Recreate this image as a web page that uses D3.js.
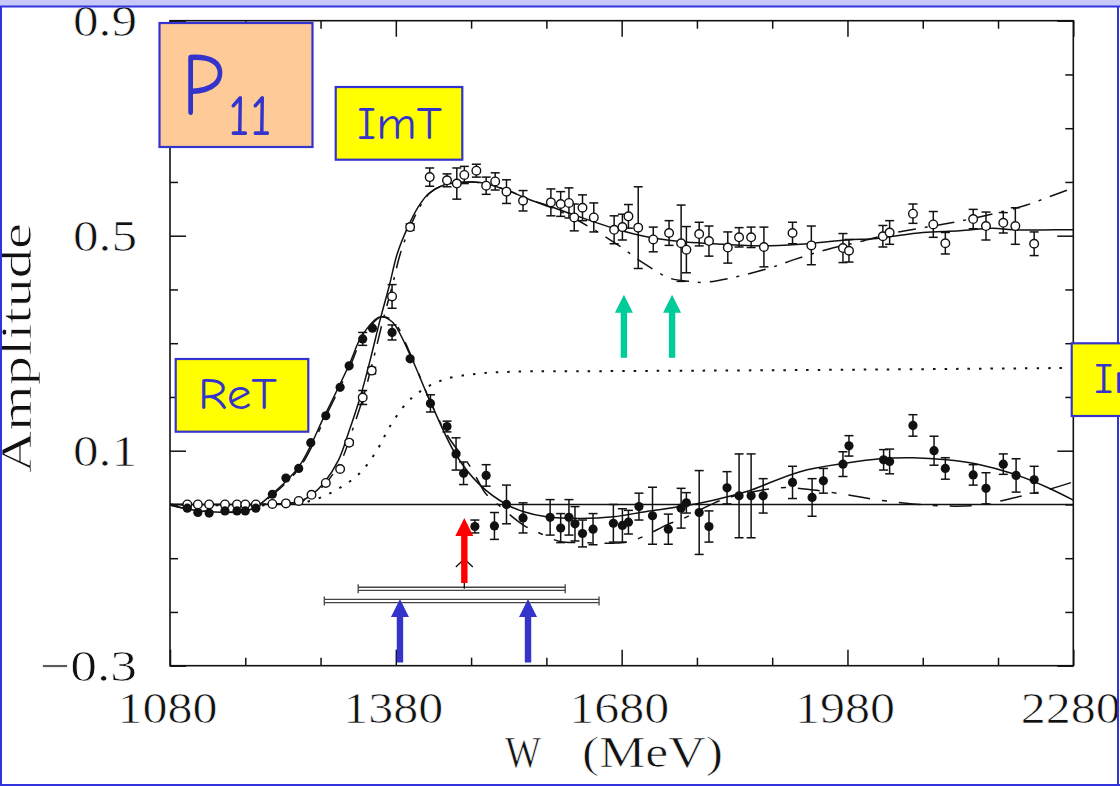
<!DOCTYPE html>
<html>
<head>
<meta charset="utf-8">
<script src="https://d3js.org/d3.v7.min.js"></script>
<style>
  html, body { margin: 0; padding: 0; background: #fff; }
  svg { display: block; }
</style>
</head>
<body>
<div id="chart"></div>
<script>
// ---- data (W in MeV, amplitude) ----
const imTW   = [1103,1117,1132,1153,1169,1180,1194,1216,1234,1251,1268,1287,1306,1318,1336,1348,1375,1399,1425,1448,1461,1471,1487,1500,1512,1527,1549,1586,1599,1610,1617,1628,1643,1670,1681,1689,1702,1722,1743,1759,1766,1783,1796,1821,1836,1852,1869,1907,1932,1974,1982,2027,2036,2067,2094,2110,2147,2164,2187,2203,2228];
const imTAmp = [0,0,0,0,0,0,0,0.001,0.002,0.0065,0.018,0.040,0.066,0.115,0.199,0.249,0.387,0.516,0.609,0.603,0.597,0.613,0.621,0.593,0.601,0.582,0.565,0.562,0.559,0.561,0.534,0.552,0.534,0.511,0.516,0.536,0.515,0.493,0.505,0.486,0.474,0.503,0.490,0.478,0.497,0.497,0.479,0.505,0.482,0.477,0.472,0.499,0.506,0.541,0.521,0.486,0.531,0.518,0.524,0.518,0.485];
const imTErr = [0,0,0,0,0,0,0,0,0,0,0,0,0,0.004,0.013,0.006,0.022,0.006,0.017,0.012,0.029,0.016,0.012,0.016,0.016,0.022,0.019,0.025,0.023,0.028,0.025,0.024,0.027,0.026,0.024,0.022,0.076,0.023,0.023,0.071,0.043,0.022,0.028,0.029,0.018,0.019,0.037,0.020,0.036,0.027,0.021,0.020,0.022,0.018,0.024,0.020,0.018,0.026,0.019,0.034,0.022];

const reTW   = [1103,1117,1132,1153,1169,1180,1194,1216,1234,1251,1267,1287,1306,1318,1336,1349,1375,1399,1426,1448,1460,1470,1485,1500,1511,1527,1549,1585,1599,1610,1618,1628,1642,1669,1681,1689,1703,1721,1742,1759,1766,1783,1796,1820,1836,1852,1868,1907,1933,1948,1974,1982,2028,2036,2067,2095,2110,2147,2164,2187,2204,2228];
const reTAmp = [-0.007,-0.015,-0.016,-0.012,-0.012,-0.012,-0.007,0.019,0.049,0.067,0.115,0.165,0.218,0.258,0.308,0.328,0.320,0.271,0.188,0.145,0.094,0.058,-0.041,0.054,-0.040,0.000,-0.025,-0.024,-0.044,-0.024,-0.036,-0.054,-0.046,-0.035,-0.039,-0.033,-0.004,-0.021,-0.046,-0.007,0.003,-0.015,-0.041,0.031,0.016,0.016,0.016,0.041,0.013,0.044,0.075,0.109,0.083,0.080,0.147,0.100,0.067,0.055,0.030,0.075,0.054,0.046];
const reTErr = [0,0,0,0,0,0,0,0,0,0,0,0,0,0,0.012,0,0.014,0,0.016,0.010,0.030,0.021,0.012,0.020,0.025,0.036,0.028,0.033,0.027,0.033,0.032,0.025,0.029,0.035,0.031,0.022,0.025,0.053,0.028,0.037,0.019,0.078,0.029,0.030,0.078,0.078,0.032,0.030,0.035,0.023,0.023,0.019,0.019,0.023,0.020,0.027,0.020,0.019,0.029,0.019,0.031,0.025];

// fitted curves [W, amplitude]
const reTSolid = [[1080,-0.001],[1120,-0.012],[1186,-0.010],[1216,0.020],[1251,0.070],[1286,0.167],[1318,0.260],[1335,0.314],[1359,0.349],[1375,0.340],[1399,0.278],[1425,0.194],[1460,0.092],[1492,0.036],[1527,0.000],[1549,-0.013],[1580,-0.023],[1625,-0.026],[1669,-0.023],[1713,-0.013],[1758,-0.004],[1802,0.008],[1846,0.024],[1917,0.061],[1979,0.077],[2023,0.085],[2067,0.087],[2112,0.083],[2156,0.074],[2200,0.057],[2245,0.032],[2280,0.008]];
const reTDashed = [[1080,-0.001],[1120,-0.012],[1186,-0.010],[1218,0.020],[1253,0.070],[1288,0.167],[1320,0.260],[1337,0.314],[1361,0.349],[1377,0.340],[1400,0.278],[1425,0.194],[1450,0.125],[1479,0.070],[1499,0.021],[1514,0.002],[1549,-0.038],[1572,-0.054],[1598,-0.069],[1625,-0.071],[1669,-0.072],[1691,-0.069],[1713,-0.057],[1740,-0.038],[1762,-0.026],[1802,0.002],[1828,0.015],[1890,0.031],[1935,0.027],[1979,0.018],[2023,0.008],[2067,0.001],[2112,-0.003],[2156,-0.001],[2200,0.012],[2245,0.027],[2280,0.042]];
const imTDashDot = [[1080,0],[1186,0],[1213,0.001],[1253,0.005],[1270,0.018],[1288,0.041],[1308,0.083],[1321,0.133],[1337,0.201],[1350,0.269],[1363,0.343],[1375,0.405],[1386,0.467],[1399,0.516],[1412,0.554],[1425,0.579],[1443,0.594],[1465,0.599],[1492,0.599],[1527,0.585],[1558,0.567],[1589,0.551],[1616,0.533],[1647,0.508],[1678,0.480],[1709,0.449],[1744,0.421],[1771,0.415],[1788,0.413],[1824,0.421],[1859,0.433],[1886,0.444],[1908,0.455],[1952,0.474],[1997,0.489],[2041,0.505],[2085,0.516],[2129,0.527],[2174,0.541],[2218,0.557],[2249,0.573],[2280,0.589]];
const imTSolid = [[1080,0],[1186,0],[1213,0.001],[1251,0.005],[1268,0.018],[1285,0.041],[1304,0.083],[1317,0.133],[1333,0.201],[1346,0.269],[1359,0.343],[1371,0.405],[1382,0.467],[1396,0.516],[1410,0.554],[1424,0.579],[1443,0.594],[1465,0.599],[1492,0.599],[1527,0.585],[1558,0.567],[1580,0.557],[1616,0.539],[1669,0.514],[1713,0.498],[1758,0.489],[1802,0.485],[1868,0.481],[1917,0.484],[1979,0.492],[2019,0.495],[2080,0.506],[2129,0.509],[2173,0.514],[2200,0.511],[2256,0.511],[2280,0.511]];
const dottedCurve = [[1080,0],[1239,0],[1270,0.008],[1301,0.027],[1332,0.058],[1355,0.101],[1372,0.145],[1394,0.188],[1412,0.210],[1443,0.232],[1487,0.243],[1536,0.247],[1651,0.248],[1917,0.250],[2280,0.254]];

// axis ticks
const xMajor = [1080, 1380, 1680, 1980, 2280];
const xMinor = [1180, 1280, 1480, 1580, 1780, 1880, 2080, 2180];
const yMajor = [-0.3, 0.1, 0.5, 0.9];
const yMinor = [-0.2, -0.1, 0, 0.2, 0.3, 0.4, 0.6, 0.7, 0.8];

// markers: [W, tip amplitude, base amplitude]
const greenArrows = [[1683, 0.390, 0.273], [1747, 0.390, 0.273]];
const redArrows = [[1471, -0.025, -0.146]];
const blueArrows = [[1385.5, -0.176, -0.294], [1555.6, -0.176, -0.294]];
const poleCaret = [[1471, -0.1015]];
// horizontal ranges: [W from, W to, amplitude]
const ranges = [[1330, 1605, -0.157], [1285, 1650, -0.1795]];

// ---- drawing ----
const width = 1120, height = 786;
const serif = "'Liberation Serif', 'Times New Roman', serif";
const comic = "'Comic Sans MS', 'Comic Neue', 'DejaVu Sans', sans-serif";
const blue = '#3434cc';

const svg = d3.select('#chart').append('svg')
	.attr('width', width)
	.attr('height', height)
	.attr('viewBox', `0 0 ${width} ${height}`);

svg.append('rect').attr('width', width).attr('height', height).attr('fill', '#fff');

const x = d3.scaleLinear().domain([1080, 2280]).range([170, 1073.3]);
const y = d3.scaleLinear().domain([-0.3, 0.9]).range([665.7, 20.7]);

function styleAxis(g) {
	g.select('.domain').remove();
	g.selectAll('.tick line').attr('stroke', '#111').attr('stroke-width', 1.5);
	g.attr('font-family', serif).attr('font-size', 45).attr('fill', '#111');
	// thin the glyphs a little, closer to the original's light serif face
	g.selectAll('text').attr('fill', '#111').attr('stroke', '#fff').attr('stroke-width', 0.7);
}

// bottom
svg.append('g').attr('transform', `translate(0,${y(-0.3)})`)
	.call(d3.axisBottom(x).tickValues(xMajor).tickSize(-16).tickPadding(25).tickFormat(d3.format('d')))
	.call(styleAxis)
	.call(g => g.selectAll('text').attr('textLength', 100).attr('lengthAdjust', 'spacingAndGlyphs').attr('dx', -3));
svg.append('g').attr('transform', `translate(0,${y(-0.3)})`)
	.call(d3.axisBottom(x).tickValues(xMinor).tickSize(-8).tickFormat(''))
	.call(styleAxis);
// top
svg.append('g').attr('transform', `translate(0,${y(0.9)})`)
	.call(d3.axisTop(x).tickValues(xMajor).tickSize(-16).tickFormat(''))
	.call(styleAxis);
svg.append('g').attr('transform', `translate(0,${y(0.9)})`)
	.call(d3.axisTop(x).tickValues(xMinor).tickSize(-8).tickFormat(''))
	.call(styleAxis);
// left
svg.append('g').attr('transform', `translate(${x(1080)},0)`)
	.call(d3.axisLeft(y).tickValues(yMajor).tickSize(-16).tickPadding(33).tickFormat(d3.format('.1f')))
	.call(styleAxis)
	.call(g => g.selectAll('text')
		.attr('textLength', d => d < 0 ? 97 : 64)
		.attr('lengthAdjust', 'spacingAndGlyphs'));
svg.append('g').attr('transform', `translate(${x(1080)},0)`)
	.call(d3.axisLeft(y).tickValues(yMinor).tickSize(-8).tickFormat(''))
	.call(styleAxis);
// right
svg.append('g').attr('transform', `translate(${x(2280)},0)`)
	.call(d3.axisRight(y).tickValues(yMajor).tickSize(-16).tickFormat(''))
	.call(styleAxis);
svg.append('g').attr('transform', `translate(${x(2280)},0)`)
	.call(d3.axisRight(y).tickValues(yMinor).tickSize(-8).tickFormat(''))
	.call(styleAxis);

// frame + zero line
svg.append('rect')
	.attr('x', x(1080)).attr('y', y(0.9))
	.attr('width', x(2280) - x(1080)).attr('height', y(-0.3) - y(0.9))
	.attr('fill', 'none').attr('stroke', '#111').attr('stroke-width', 1.6);
svg.append('line')
	.attr('x1', x(1080)).attr('x2', x(2280))
	.attr('y1', y(0)).attr('y2', y(0))
	.attr('stroke', '#111').attr('stroke-width', 1.5);

// axis titles
const titles = svg.append('g')
	.attr('font-family', serif).attr('font-size', 44).attr('fill', '#111')
	.attr('stroke', '#fff').attr('stroke-width', 0.7)
	.attr('lengthAdjust', 'spacingAndGlyphs');
titles.append('text')
	.attr('transform', `translate(31,348) rotate(-90)`)
	.attr('text-anchor', 'middle')
	.attr('textLength', 250).attr('lengthAdjust', 'spacingAndGlyphs')
	.text('Amplitude');
titles.append('text')
	.attr('x', 505).attr('y', 767)
	.attr('textLength', 36).attr('lengthAdjust', 'spacingAndGlyphs')
	.text('W');
titles.append('text')
	.attr('x', 582).attr('y', 767)
	.attr('textLength', 141).attr('lengthAdjust', 'spacingAndGlyphs')
	.text('(MeV)');

// curves
const line = d3.line()
	.x(d => x(d[0]))
	.y(d => y(d[1]))
	.curve(d3.curveCatmullRom.alpha(0.5));

const curves = svg.append('g').attr('fill', 'none').attr('stroke', '#111').attr('stroke-width', 1.5);
curves.append('path').attr('d', line(dottedCurve)).attr('stroke-dasharray', '2.5,9').attr('stroke-width', 2);
curves.append('path').attr('d', line(reTDashed)).attr('stroke-dasharray', '22,12,5,12');
curves.append('path').attr('d', line(imTDashDot)).attr('stroke-dasharray', '18,9,3,9');
curves.append('path').attr('d', line(reTSolid));
curves.append('path').attr('d', line(imTSolid));

// data points
const imTData = imTW.map((w, i) => ({ w, v: imTAmp[i], e: imTErr[i] }));
const reTData = reTW.map((w, i) => ({ w, v: reTAmp[i], e: reTErr[i] }));

function drawErrors(data) {
	const g = svg.append('g').attr('stroke', '#111').attr('stroke-width', 1.5);
	const withErr = data.filter(d => d.e > 0);
	g.selectAll('line.bar').data(withErr).join('line').attr('class', 'bar')
		.attr('x1', d => x(d.w)).attr('x2', d => x(d.w))
		.attr('y1', d => y(d.v - d.e)).attr('y2', d => y(d.v + d.e));
	g.selectAll('line.capHi').data(withErr).join('line').attr('class', 'capHi')
		.attr('x1', d => x(d.w) - 4.5).attr('x2', d => x(d.w) + 4.5)
		.attr('y1', d => y(d.v + d.e)).attr('y2', d => y(d.v + d.e));
	g.selectAll('line.capLo').data(withErr).join('line').attr('class', 'capLo')
		.attr('x1', d => x(d.w) - 4.5).attr('x2', d => x(d.w) + 4.5)
		.attr('y1', d => y(d.v - d.e)).attr('y2', d => y(d.v - d.e));
}

drawErrors(imTData);
svg.append('g').selectAll('circle').data(imTData).join('circle')
	.attr('cx', d => x(d.w)).attr('cy', d => y(d.v)).attr('r', 4.3)
	.attr('fill', '#fff').attr('stroke', '#111').attr('stroke-width', 1.4);

drawErrors(reTData);
svg.append('g').selectAll('circle').data(reTData).join('circle')
	.attr('cx', d => x(d.w)).attr('cy', d => y(d.v)).attr('r', 4.6)
	.attr('fill', '#111');

// horizontal ranges (double lines)
const rg = svg.append('g').attr('stroke', '#444').attr('stroke-width', 1.3);
ranges.forEach(r => {
	const yy = y(r[2]);
	[-1.6, 1.6].forEach(off => {
		rg.append('line').attr('x1', x(r[0])).attr('x2', x(r[1])).attr('y1', yy + off).attr('y2', yy + off);
	});
	[r[0], r[1]].forEach(w => {
		rg.append('line').attr('x1', x(w)).attr('x2', x(w)).attr('y1', yy - 4.5).attr('y2', yy + 4.5);
	});
});

// pole caret (black arrow head, shaft hidden behind red arrow)
svg.append('g').selectAll('path').data(poleCaret).join('path')
	.attr('d', d => {
		const cx = x(d[0]), cy = y(d[1]);
		return `M${cx - 8.5},${cy + 8}L${cx},${cy}L${cx + 8.5},${cy + 8}M${cx},${cy}L${cx},${y(-0.157)}`;
	})
	.attr('fill', 'none').attr('stroke', '#111').attr('stroke-width', 1.3);

// arrows
function arrowPath(d) {
	const cx = x(d[0]), tip = y(d[1]), base = y(d[2]);
	const hw = 9, hh = 18, sw = 3.2;
	return `M${cx},${tip}L${cx + hw},${tip + hh}L${cx + sw},${tip + hh}L${cx + sw},${base}` +
		`L${cx - sw},${base}L${cx - sw},${tip + hh}L${cx - hw},${tip + hh}Z`;
}
svg.append('g').selectAll('path').data(greenArrows).join('path').attr('d', arrowPath).attr('fill', '#00cc99');
svg.append('g').selectAll('path').data(redArrows).join('path').attr('d', arrowPath).attr('fill', '#ff0000');
svg.append('g').selectAll('path').data(blueArrows).join('path').attr('d', arrowPath).attr('fill', blue);

// label boxes
function box(x0, y0, w, h, fill) {
	svg.append('rect').attr('x', x0).attr('y', y0).attr('width', w).attr('height', h)
		.attr('fill', fill).attr('stroke', blue).attr('stroke-width', 2.2);
}
function boxText(tx, ty, size, len, str) {
	svg.append('text').attr('x', tx).attr('y', ty)
		.attr('font-family', comic).attr('font-size', size).attr('fill', blue)
		.attr('textLength', len).attr('lengthAdjust', 'spacingAndGlyphs')
		.text(str);
}

box(159.5, 23, 153, 124, '#fdca98');
boxText(182, 115, 89, 42, 'P');
boxText(228, 135, 59, 44, '11');

box(335.7, 87, 126.6, 72.7, '#ffff00');
boxText(357, 138.7, 46, 85, 'ImT');

box(175.7, 359, 132.6, 72.7, '#ffff00');
boxText(198, 409, 44, 79, 'ReT');

box(1071.7, 343.3, 60, 72.7, '#ffff00');
boxText(1094, 392.7, 43, 86, 'ImT');

// page frame
svg.append('rect').attr('x', 0).attr('y', 0).attr('width', width).attr('height', 6).attr('fill', '#c8c8f8');
const frame = svg.append('g').attr('stroke', '#3333dd').attr('stroke-width', 2);
frame.append('line').attr('x1', 0).attr('x2', width).attr('y1', 6.5).attr('y2', 6.5);
frame.append('line').attr('x1', 1).attr('x2', 1).attr('y1', 6).attr('y2', height);
frame.append('line').attr('x1', 1118).attr('x2', 1118).attr('y1', 6).attr('y2', 343);
frame.append('line').attr('x1', 1118).attr('x2', 1118).attr('y1', 416).attr('y2', height);
frame.append('line').attr('x1', 0).attr('x2', width).attr('y1', 785).attr('y2', 785);
</script>
</body>
</html>
